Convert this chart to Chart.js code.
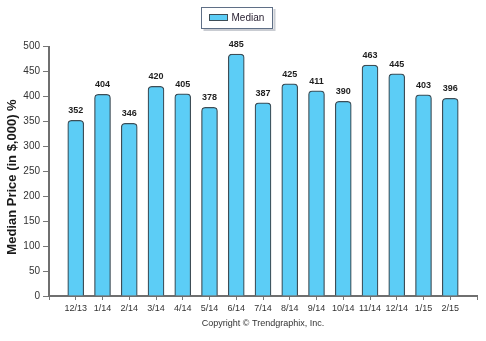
<!DOCTYPE html>
<html>
<head>
<meta charset="utf-8">
<script src="https://cdn.jsdelivr.net/npm/chart.js@4.4.1/dist/chart.umd.min.js"></script>
<style>
  html, body { margin: 0; padding: 0; background: #ffffff; }
  #wrap { position: relative; width: 486px; height: 341px; }
</style>
</head>
<body>
<div id="wrap"><canvas id="chart" width="486" height="341"></canvas></div>
<script>
// Monthly median sale price, in thousands of dollars
const months = ['12/13', '1/14', '2/14', '3/14', '4/14', '5/14', '6/14', '7/14',
                '8/14', '9/14', '10/14', '11/14', '12/14', '1/15', '2/15'];
const medianPrice = [352, 404, 346, 420, 405, 378, 485, 387, 425, 411, 390, 463, 445, 403, 396];
const yTicks = { min: 0, max: 500, step: 50 };
const seriesName = 'Median';
const yTitle = 'Median Price (in $,000) %';
const footerText = 'Copyright \u00A9 Trendgraphix, Inc.';

// empty slots at both ends leave a gap before the first and after the last bar
const labels = [''].concat(months, ['']);
const values = [null].concat(medianPrice, [null]);

const FONT = "'Liberation Sans', Arial, sans-serif";
const BAR_FILL = '#5ccdf6';
const BAR_EDGE = '#3d4d56';

// value labels above each bar
const valueLabels = {
  id: 'valueLabels',
  afterDatasetsDraw(chart) {
    const ctx = chart.ctx;
    const meta = chart.getDatasetMeta(0);
    ctx.save();
    ctx.font = 'bold 9px ' + FONT;
    ctx.fillStyle = '#1e1e1e';
    ctx.textAlign = 'center';
    ctx.textBaseline = 'bottom';
    meta.data.forEach((bar, i) => {
      const v = values[i];
      if (v === null) return;
      ctx.fillText(String(v), bar.x, bar.y - 5);
    });
    ctx.restore();
  }
};

// boxed legend, vertical axis title and copyright line
const frame = {
  id: 'frame',
  afterDraw(chart) {
    const ctx = chart.ctx;
    ctx.save();
    // legend box shadow
    ctx.fillStyle = '#c9ccd2';
    ctx.fillRect(203.5, 9, 72, 22);
    ctx.fillStyle = '#ffffff';
    ctx.fillRect(201.5, 7, 72, 22);
    ctx.strokeStyle = '#5f6f86';
    ctx.lineWidth = 1;
    ctx.strokeRect(201.5, 7.5, 71, 21);
    // swatch
    ctx.fillStyle = BAR_FILL;
    ctx.fillRect(209.5, 14.5, 18, 6);
    ctx.strokeStyle = BAR_EDGE;
    ctx.strokeRect(209.5, 14.5, 18, 6);
    ctx.fillStyle = '#2a2233';
    ctx.font = '10px ' + FONT;
    ctx.textAlign = 'left';
    ctx.textBaseline = 'middle';
    ctx.fillText(seriesName, 231.5, 18);
    // copyright
    ctx.fillStyle = '#333333';
    ctx.font = '9px ' + FONT;
    ctx.textAlign = 'center';
    ctx.textBaseline = 'middle';
    ctx.fillText(footerText, 263, 324);
    // y axis title
    ctx.translate(12.5, 177);
    ctx.rotate(-Math.PI / 2);
    ctx.fillStyle = '#1a1a1a';
    ctx.font = 'bold 13px ' + FONT;
    ctx.textAlign = 'center';
    ctx.textBaseline = 'middle';
    ctx.fillText(yTitle, 0, 0);
    ctx.restore();
  }
};

new Chart(document.getElementById('chart'), {
  type: 'bar',
  data: {
    labels: labels,
    datasets: [{
      label: seriesName,
      data: values,
      backgroundColor: BAR_FILL,
      borderColor: BAR_EDGE,
      borderWidth: 1.25,
      borderSkipped: 'bottom',
      borderRadius: { topLeft: 4, topRight: 4, bottomLeft: 0, bottomRight: 0 },
      barThickness: 16
    }]
  },
  options: {
    responsive: false,
    animation: false,
    layout: { padding: { left: 0, right: 9, top: 46.5, bottom: 0 } },
    plugins: {
      legend: { display: false },
      tooltip: { enabled: false }
    },
    scales: {
      x: {
        offset: false,
        grid: {
          offset: false,
          drawOnChartArea: false,
          drawTicks: true,
          tickLength: 4,
          tickColor: '#777777'
        },
        border: { display: true, color: '#6f6f6f', width: 2 },
        ticks: {
          autoSkip: false,
          maxRotation: 0,
          padding: 3,
          color: '#333333',
          font: { family: FONT, size: 9 }
        },
        afterFit(scale) { scale.height = 45; }
      },
      y: {
        min: yTicks.min,
        max: yTicks.max,
        grid: {
          drawOnChartArea: false,
          drawTicks: true,
          tickLength: 6,
          tickColor: '#777777'
        },
        border: { display: true, color: '#6f6f6f', width: 2 },
        ticks: {
          stepSize: yTicks.step,
          padding: 3,
          color: '#333333',
          font: { family: FONT, size: 10 }
        },
        afterFit(scale) { scale.width = 49; }
      }
    }
  },
  plugins: [valueLabels, frame]
});
</script>
</body>
</html>
